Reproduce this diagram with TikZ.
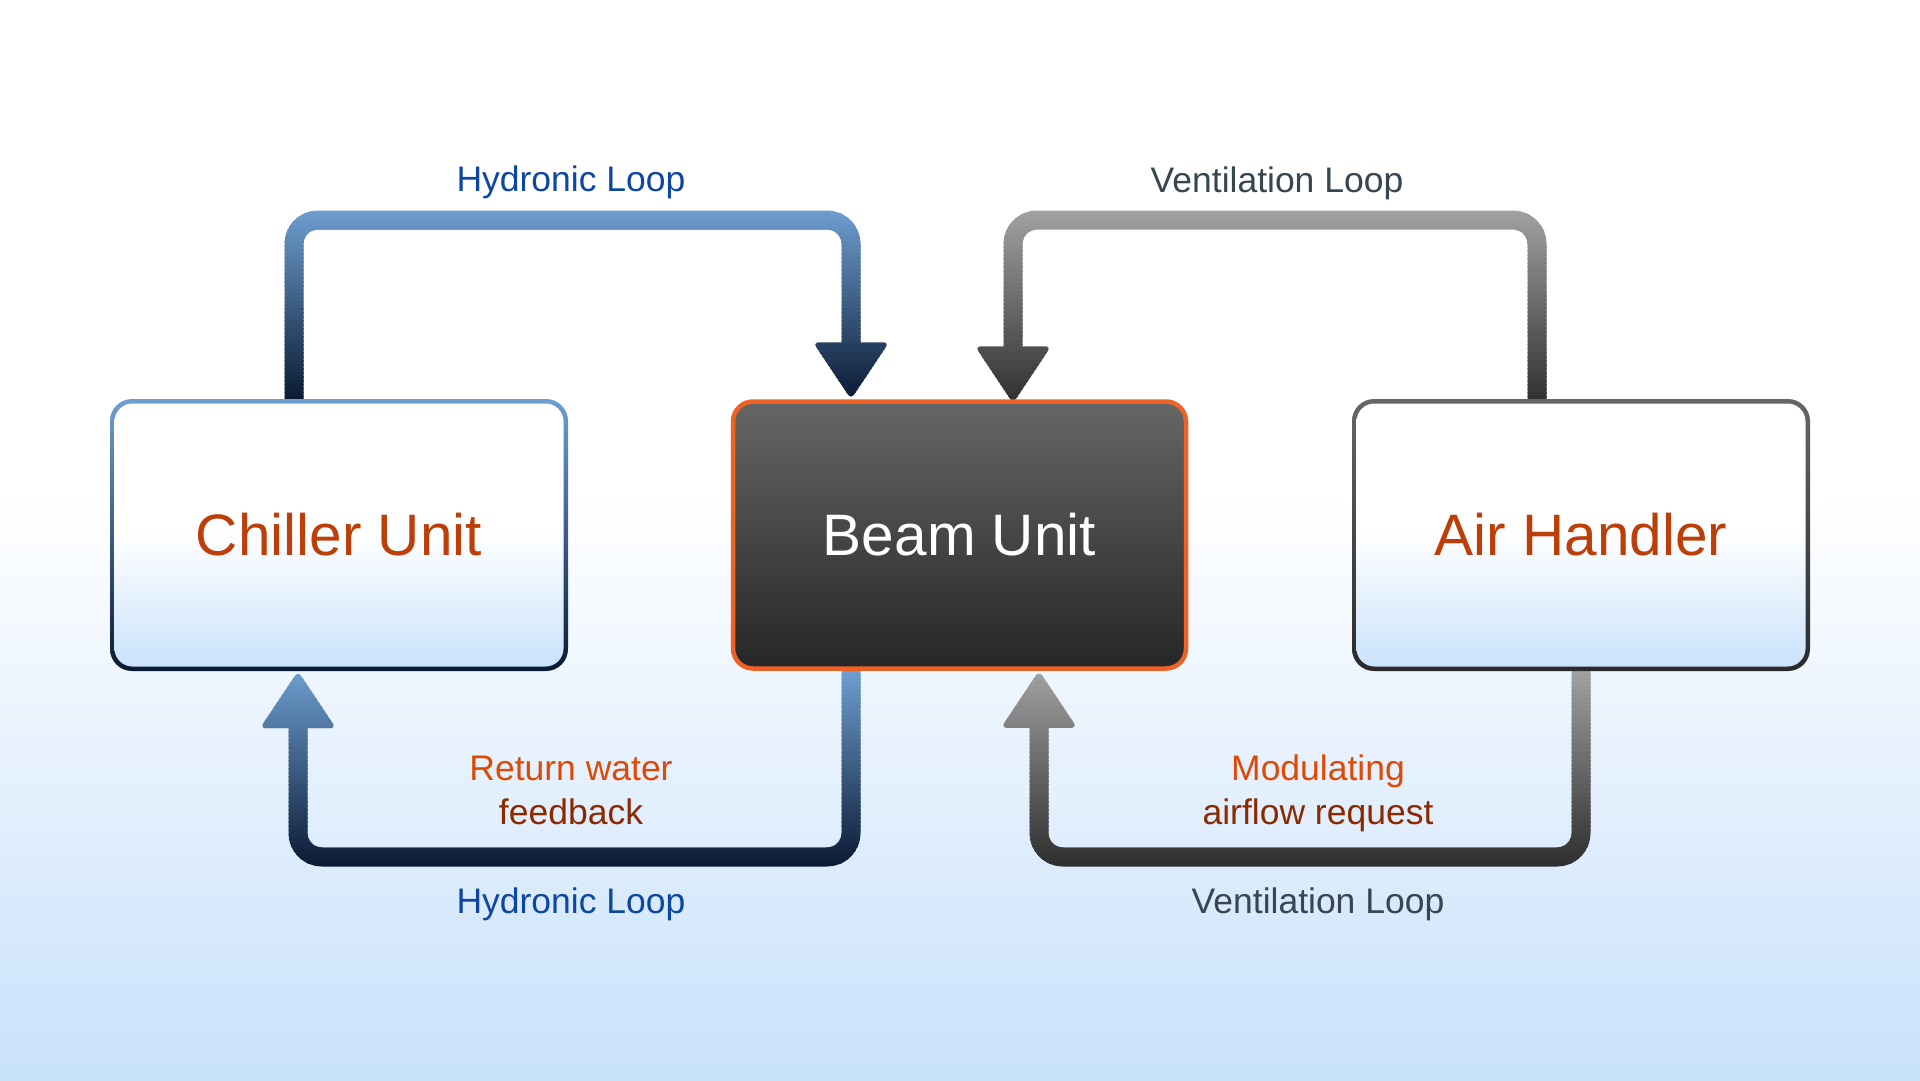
\documentclass[tikz,border=0pt]{standalone}
\usepackage{fontspec}
\setmainfont{Liberation Sans}
\usetikzlibrary{calc}
\definecolor{hlight}{HTML}{6F9FD0}
\definecolor{hdark}{HTML}{0A1A33}
\definecolor{glight}{HTML}{A2A2A2}
\definecolor{gdark}{HTML}{2E2E2E}
\definecolor{bgblue}{HTML}{C8E1FB}
\definecolor{boxblue}{HTML}{C9E2FC}
\definecolor{beamtop}{HTML}{666666}
\definecolor{beambot}{HTML}{262626}
\definecolor{beamedge}{HTML}{EE6325}
\definecolor{lbltext}{HTML}{BC3E08}
\definecolor{hydtext}{HTML}{0D47A1}
\definecolor{ventext}{HTML}{37474F}
\definecolor{orangetxt}{HTML}{DD4A08}
\definecolor{browntxt}{HTML}{8B2A00}
\definecolor{ahtop}{HTML}{666666}
\definecolor{ahbot}{HTML}{2A2A2A}
\pgfdeclareverticalshading{bgfill}{100bp}{color(0bp)=(bgblue); color(25bp)=(bgblue); color(52bp)=(white); color(75bp)=(white); color(100bp)=(white)}
\pgfdeclareverticalshading{boxfill}{100bp}{color(0bp)=(boxblue); color(25bp)=(boxblue); color(51bp)=(white); color(75bp)=(white); color(100bp)=(white)}
\pgfdeclarelayer{bglayer}
\pgfdeclarelayer{connlayer}
\pgfsetlayers{bglayer,connlayer,main}
\newcommand{\gradpath}[5]{%
  \foreach \i in {0,...,47}{%
    \pgfmathsetmacro{\ya}{#3+(#4-#3)*\i/48}%
    \pgfmathsetmacro{\yb}{#3+(#4-#3)*(\i+1)/48+0.8}%
    \pgfmathsetmacro{\pc}{(\i+0.5)*100/48}%
    \begin{scope}
      \clip (0,\ya) rectangle (1920,\yb);
      \colorlet{bandc}{#2!\pc!#1}
      #5
    \end{scope}
  }}
\newcommand{\tipdown}[1]{\fill[bandc, rounded corners=6pt] ($(#1)+(-38,-57)$) -- ($(#1)+(38,-57)$) -- (#1) -- cycle;}
\newcommand{\tipup}[1]{\fill[bandc, rounded corners=6pt] ($(#1)+(-38,57)$) -- ($(#1)+(38,57)$) -- (#1) -- cycle;}
\begin{document}
\begin{tikzpicture}[x=1pt,y=-1pt,
  conn/.style={line width=19pt, rounded corners=24pt},
  sidebox/.style n args={2}{minimum width=458pt, minimum height=272pt, inner sep=0pt,
    rounded corners=22pt, top color=#1, bottom color=#2, text=lbltext,
    font=\fontsize{58.5}{68}\selectfont,
    path picture={\shade[shading=boxfill, rounded corners=18pt]
      ([xshift=4.5pt,yshift=-4.5pt]path picture bounding box.north west) rectangle
      ([xshift=-4.5pt,yshift=4.5pt]path picture bounding box.south east);}},
  beambox/.style={minimum width=453pt, minimum height=267pt, inner sep=0pt,
    rounded corners=20pt, top color=beamtop, bottom color=beambot,
    draw=beamedge, line width=4.5pt, text=white, font=\fontsize{58.5}{68}\selectfont},
  lab/.style={font=\fontsize{35.5}{44}\selectfont, inner sep=0pt, align=center},
  hyd/.style={lab, text=hydtext},
  ven/.style={lab, text=ventext}]
\begin{pgfonlayer}{bglayer}
\shade[shading=bgfill] (0,0) rectangle (1920,1080);
\end{pgfonlayer}
\useasboundingbox (0,0) rectangle (1920,1080);

\node[sidebox={hlight}{hdark}] (chill) at (339,535) {Chiller Unit};
\node[beambox] (beam) at (959.5,535) {Beam Unit};
\node[sidebox={ahtop}{ahbot}] (air) at (1581,535) {Air Handler};

\coordinate (topy) at (0,220);
\coordinate (boty) at (0,857);
\coordinate (hx1) at (294,0);
\coordinate (hx2) at (851,0);
\coordinate (hx3) at (298,0);
\coordinate (vx1) at (1537,0);
\coordinate (vx2) at (1013,0);
\coordinate (vx3) at (1039,0);
\coordinate (t1) at (beam.north -| hx2);
\coordinate (t2) at ($(beam.north -| vx2)+(0,4)$);
\coordinate (t3) at (chill.south -| hx3);
\coordinate (t4) at (beam.south -| vx3);

\begin{pgfonlayer}{connlayer}
\gradpath{hlight}{hdark}{210}{400}{%
  \draw[conn, bandc] (chill.north -| hx1) |- (hx2 |- topy) -- ($(t1)+(0,-50)$);
  \tipdown{t1}}
\gradpath{glight}{gdark}{210}{405}{%
  \draw[conn, bandc] (air.north -| vx1) |- (vx2 |- topy) -- ($(t2)+(0,-50)$);
  \tipdown{t2}}
\gradpath{hlight}{hdark}{670}{867}{%
  \draw[conn, bandc] (beam.south -| hx2) |- (hx3 |- boty) -- ($(t3)+(0,50)$);
  \tipup{t3}}
\gradpath{glight}{gdark}{670}{867}{%
  \draw[conn, bandc] (air.south) |- (vx3 |- boty) -- ($(t4)+(0,50)$);
  \tipup{t4}}
\end{pgfonlayer}

\node[hyd] (hydtop) at (571,182.5) {Hydronic Loop};
\node[ven] (ventop) at (1277,183.5) {Ventilation Loop};
\node[hyd] (hydbot) at (571,904.5) {Hydronic Loop};
\node[ven] (venbot) at (1318,904.5) {Ventilation Loop};
\node[lab] (ret) at (571,790) {\textcolor{orangetxt}{Return water}\\\textcolor{browntxt}{feedback}};
\node[lab] (mod) at (1318,793) {\textcolor{orangetxt}{Modulating}\\\textcolor{browntxt}{airflow request}};
\end{tikzpicture}
\end{document}
